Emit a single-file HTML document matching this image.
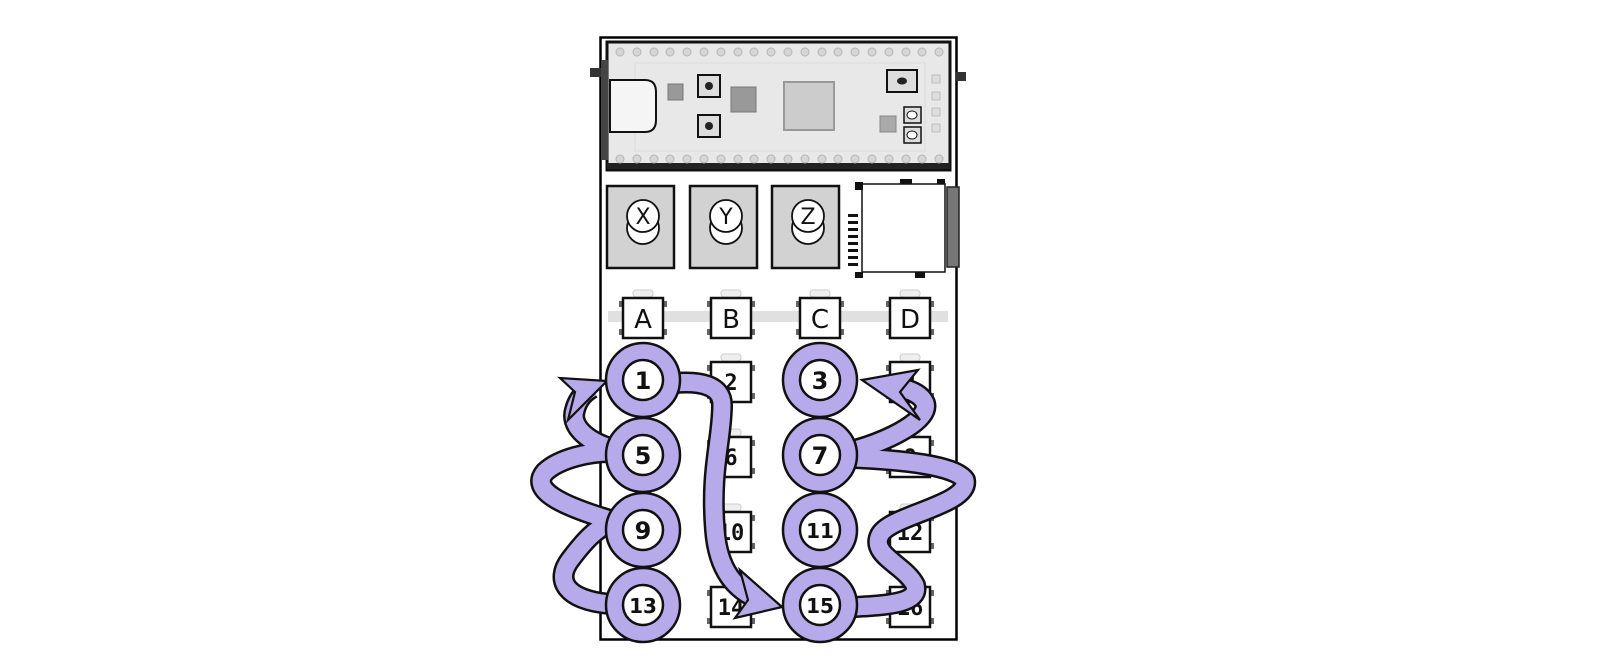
<!DOCTYPE html>
<html><head><meta charset="utf-8"><style>
html,body{margin:0;padding:0;background:#fff;}
svg{display:block;font-family:"DejaVu Sans","Liberation Sans",sans-serif;}
</style></head><body>
<svg width="1600" height="672" viewBox="0 0 1600 672" xmlns="http://www.w3.org/2000/svg">
<!-- board -->
<rect x="600.5" y="37.5" width="356" height="602" fill="#fff" stroke="#000" stroke-width="2.5"/>
<rect x="590" y="68" width="12" height="9" fill="#333"/>
<rect x="956" y="72" width="10" height="9" fill="#333"/>
<!-- pico -->
<rect x="607" y="42" width="343" height="128" fill="#e8e8e8" stroke="#111" stroke-width="3"/>
<rect x="607" y="163" width="343" height="6" fill="#222"/>
<rect x="635" y="63" width="290" height="88" fill="none" stroke="#ddd" stroke-width="1"/>
<g fill="#d6d6d6" stroke="#b5b5b5" stroke-width="1">
<circle cx="620" cy="52" r="4"/><circle cx="637" cy="52" r="4"/><circle cx="654" cy="52" r="4"/><circle cx="670" cy="52" r="4"/><circle cx="687" cy="52" r="4"/><circle cx="704" cy="52" r="4"/><circle cx="721" cy="52" r="4"/><circle cx="738" cy="52" r="4"/><circle cx="754" cy="52" r="4"/><circle cx="771" cy="52" r="4"/><circle cx="788" cy="52" r="4"/><circle cx="805" cy="52" r="4"/><circle cx="822" cy="52" r="4"/><circle cx="838" cy="52" r="4"/><circle cx="855" cy="52" r="4"/><circle cx="872" cy="52" r="4"/><circle cx="889" cy="52" r="4"/><circle cx="906" cy="52" r="4"/><circle cx="922" cy="52" r="4"/><circle cx="939" cy="52" r="4"/>
<circle cx="620" cy="159" r="4"/><circle cx="637" cy="159" r="4"/><circle cx="654" cy="159" r="4"/><circle cx="670" cy="159" r="4"/><circle cx="687" cy="159" r="4"/><circle cx="704" cy="159" r="4"/><circle cx="721" cy="159" r="4"/><circle cx="738" cy="159" r="4"/><circle cx="754" cy="159" r="4"/><circle cx="771" cy="159" r="4"/><circle cx="788" cy="159" r="4"/><circle cx="805" cy="159" r="4"/><circle cx="822" cy="159" r="4"/><circle cx="838" cy="159" r="4"/><circle cx="855" cy="159" r="4"/><circle cx="872" cy="159" r="4"/><circle cx="889" cy="159" r="4"/><circle cx="906" cy="159" r="4"/><circle cx="922" cy="159" r="4"/><circle cx="939" cy="159" r="4"/>
</g>
<rect x="601" y="60" width="7" height="100" fill="#444"/>
<path d="M610 80 H645 Q656 80 656 92 V120 Q656 132 645 132 H610 Z" fill="#f5f5f5" stroke="#111" stroke-width="2"/>
<rect x="668" y="84" width="15" height="16" fill="#999" stroke="#777"/>
<rect x="698" y="75" width="22" height="22" fill="#ddd" stroke="#111" stroke-width="2"/><circle cx="709" cy="86" r="4" fill="#222"/>
<rect x="698" y="115" width="22" height="22" fill="#ddd" stroke="#111" stroke-width="2"/><circle cx="709" cy="126" r="4" fill="#222"/>
<rect x="731" y="87" width="25" height="25" fill="#999" stroke="#777"/>
<rect x="784" y="82" width="50" height="48" fill="#ccc" stroke="#999" stroke-width="2"/>
<rect x="887" y="70" width="30" height="22" fill="#ddd" stroke="#111" stroke-width="2"/><ellipse cx="902" cy="81" rx="5" ry="3.5" fill="#222"/>
<rect x="880" y="116" width="16" height="16" fill="#aaa" stroke="#888"/>
<rect x="904" y="107" width="17" height="16" fill="#ddd" stroke="#111" stroke-width="1.5"/><ellipse cx="912" cy="115" rx="5" ry="4" fill="#fff" stroke="#111"/>
<rect x="904" y="127" width="17" height="16" fill="#ddd" stroke="#111" stroke-width="1.5"/><ellipse cx="912" cy="135" rx="5" ry="4" fill="#fff" stroke="#111"/>
<g fill="#ddd" stroke="#bbb"><rect x="932" y="75" width="8" height="8"/><rect x="932" y="92" width="8" height="8"/><rect x="932" y="108" width="8" height="8"/><rect x="932" y="124" width="8" height="8"/></g>
<!-- XYZ buttons -->
<g stroke="#111" stroke-width="2.5">
<rect x="607" y="186" width="67" height="82" fill="#d2d2d2"/>
<rect x="690" y="186" width="67" height="82" fill="#d2d2d2"/>
<rect x="772" y="186" width="67" height="82" fill="#d2d2d2"/>
</g>
<g stroke="#111" stroke-width="1.8" fill="#fff">
<circle cx="643" cy="228" r="16"/><circle cx="643" cy="216" r="16"/>
<circle cx="726" cy="228" r="16"/><circle cx="726" cy="216" r="16"/>
<circle cx="808" cy="228" r="16"/><circle cx="808" cy="216" r="16"/>
</g>
<g font-size="22" text-anchor="middle" fill="#111"><text x="643" y="224">X</text><text x="726" y="224">Y</text><text x="808" y="224">Z</text></g>
<!-- SD card -->
<path d="M862 184 H945 V272 H862 V200 Z" fill="#fff" stroke="#111" stroke-width="1.5"/>
<rect x="947" y="187" width="12" height="80" fill="#777" stroke="#222" stroke-width="1.5"/>
<rect x="855" y="182" width="8" height="8" fill="#111"/><rect x="900" y="179" width="12" height="5" fill="#111"/><rect x="937" y="179" width="8" height="5" fill="#111"/>
<rect x="855" y="272" width="8" height="6" fill="#111"/><rect x="915" y="272" width="10" height="6" fill="#111"/>
<g fill="#111"><rect x="848" y="214" width="10" height="3"/><rect x="848" y="221" width="10" height="3"/><rect x="848" y="228" width="10" height="3"/><rect x="848" y="235" width="10" height="3"/><rect x="848" y="242" width="10" height="3"/><rect x="848" y="249" width="10" height="3"/><rect x="848" y="256" width="10" height="3"/><rect x="848" y="263" width="10" height="3"/></g>
<!-- bar -->
<rect x="608" y="311" width="340" height="11" fill="#e0e0e0"/>
<!-- keys -->
<defs>
<g id="k">
<rect x="-10" y="-28" width="20" height="7" rx="3" fill="#eee" stroke="#ccc"/>
<rect x="-24" y="-17" width="6" height="6" fill="#666"/><rect x="18" y="-17" width="6" height="6" fill="#666"/>
<rect x="-24" y="11" width="6" height="6" fill="#666"/><rect x="18" y="11" width="6" height="6" fill="#666"/>
<rect x="-20" y="-20" width="40" height="40" fill="#fff" stroke="#111" stroke-width="2.5"/>
</g>
</defs>
<g font-size="26" text-anchor="middle" fill="#111">
<use href="#k" x="643" y="318"/><text x="643" y="328">A</text>
<use href="#k" x="731" y="318"/><text x="731" y="328">B</text>
<use href="#k" x="820" y="318"/><text x="820" y="328">C</text>
<use href="#k" x="910" y="318"/><text x="910" y="328">D</text>
</g>
<g font-size="22" font-weight="bold" text-anchor="middle" fill="#111" font-family="'DejaVu Sans Mono',monospace">
<use href="#k" x="731" y="382"/><text x="731" y="390">2</text>
<use href="#k" x="910" y="382"/><text x="910" y="390">4</text>
<use href="#k" x="731" y="457"/><text x="731" y="465">6</text>
<use href="#k" x="910" y="457"/><text x="910" y="465">8</text>
<use href="#k" x="731" y="532"/><text x="731" y="540">10</text>
<use href="#k" x="910" y="532"/><text x="910" y="540">12</text>
<use href="#k" x="731" y="607"/><text x="731" y="615">14</text>
<use href="#k" x="910" y="607"/><text x="910" y="615">16</text>
</g>
<!-- arrows -->
<g fill="none" stroke-linecap="butt" stroke-linejoin="round">
<g stroke="#111" stroke-width="22">
<path d="M610 604 C565 600 555 580 570 560 C585 540 595 530 610 522"/>
<path d="M610 520 C560 505 530 490 545 472 C560 458 590 452 610 452"/>
<path d="M610 448 C585 440 570 425 575 410 C578 398 585 392 592 388"/>
<path d="M675 383 C700 381 722 385 722 405 C722 440 710 470 715 530 C718 570 735 590 760 600"/>
<path d="M855 607 C890 605 920 603 915 585 C905 565 870 555 880 535 C890 515 970 505 965 480 C955 465 900 460 855 458"/>
<path d="M855 450 C890 440 930 420 925 403 C920 392 905 388 890 386"/>
</g>
<g stroke="#b7aaea" stroke-width="17">
<path d="M610 604 C565 600 555 580 570 560 C585 540 595 530 610 522"/>
<path d="M610 520 C560 505 530 490 545 472 C560 458 590 452 610 452"/>
<path d="M610 448 C585 440 570 425 575 410 C578 398 585 392 592 388"/>
<path d="M675 383 C700 381 722 385 722 405 C722 440 710 470 715 530 C718 570 735 590 760 600"/>
<path d="M855 607 C890 605 920 603 915 585 C905 565 870 555 880 535 C890 515 970 505 965 480 C955 465 900 460 855 458"/>
<path d="M855 450 C890 440 930 420 925 403 C920 392 905 388 890 386"/>
</g>
</g>
<g fill="#b7aaea" stroke="#111" stroke-width="2.2" stroke-linejoin="miter">
<polygon points="607,381 560,378 575,392 568,420"/>
<polygon points="782,607 740,570 748,600 735,618"/>
<polygon points="862,380 918,370 900,392 920,420"/>
</g>
<!-- circles -->
<g stroke="#111" stroke-width="2.5">
<g fill="#b7aaea">
<circle cx="643" cy="380" r="37"/><circle cx="643" cy="455" r="37"/><circle cx="643" cy="530" r="37"/><circle cx="643" cy="605" r="37"/>
<circle cx="820" cy="380" r="37"/><circle cx="820" cy="455" r="37"/><circle cx="820" cy="530" r="37"/><circle cx="820" cy="605" r="37"/>
</g>
<g fill="#fff">
<circle cx="643" cy="380" r="20"/><circle cx="643" cy="455" r="20"/><circle cx="643" cy="530" r="20"/><circle cx="643" cy="605" r="20"/>
<circle cx="820" cy="380" r="20"/><circle cx="820" cy="455" r="20"/><circle cx="820" cy="530" r="20"/><circle cx="820" cy="605" r="20"/>
</g>
</g>
<g font-size="24" font-weight="bold" text-anchor="middle" fill="#111">
<text x="643" y="389">1</text><text x="643" y="464">5</text><text x="643" y="539">9</text><text x="643" y="613" font-size="20">13</text>
<text x="820" y="389">3</text><text x="820" y="464">7</text><text x="820" y="538" font-size="20">11</text><text x="820" y="613" font-size="20">15</text>
</g>
</svg>
</body></html>
